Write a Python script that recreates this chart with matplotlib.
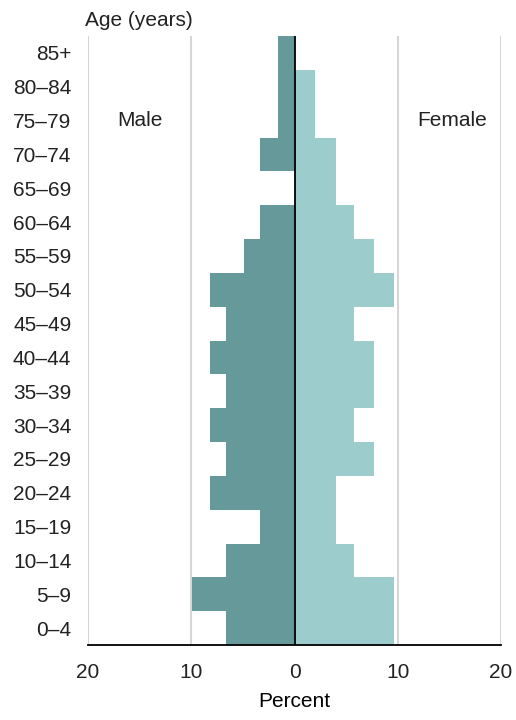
import numpy as np
import matplotlib
matplotlib.use("Agg")
import matplotlib.pyplot as plt
from matplotlib import rcParams

rcParams.update({
    "font.family": ["Liberation Sans", "DejaVu Sans"],
    "font.size": 15,
    "text.color": "#222222",
    "xtick.color": "#222222",
    "ytick.color": "#222222",
})

# ── data ──────────────────────────────────────────────
age_groups = ["0–4", "5–9", "10–14", "15–19", "20–24", "25–29", "30–34",
              "35–39", "40–44", "45–49", "50–54", "55–59", "60–64",
              "65–69", "70–74", "75–79", "80–84", "85+"]
male = [6.6, 9.9, 6.6, 3.3, 8.2, 6.6, 8.2, 6.6, 8.2, 6.6, 8.2, 4.9, 3.3,
        0.0, 3.3, 1.6, 1.6, 1.6]
female = [9.6, 9.6, 5.8, 4.0, 4.0, 7.7, 5.8, 7.7, 7.7, 5.8, 9.6, 7.7, 5.8,
          4.0, 4.0, 2.0, 2.0, 0.0]
x_ticks = [-20, -10, 0, 10, 20]

C_MALE = "#669999"
C_FEMALE = "#9ccccc"
C_GRID = "#d6d6d6"

fig = plt.figure(figsize=(5.16, 7.2), dpi=100)
ax = fig.add_axes([88 / 516, 1 - 645 / 720, 413 / 516, 609 / 720])

y = np.arange(len(age_groups))
ax.barh(y, [-m for m in male], height=1.0, color=C_MALE, linewidth=0, zorder=2)
ax.barh(y, female, height=1.0, color=C_FEMALE, linewidth=0, zorder=2)

# grid lines and zero line
for xv in x_ticks:
    if xv == 0:
        ax.axvline(0, color="black", linewidth=1.3, zorder=3)
    else:
        ax.axvline(xv, color=C_GRID, linewidth=1.5, zorder=1)

ax.set_xlim(-20, 20)
ax.set_ylim(-0.5, len(age_groups) - 0.5)
ax.set_xticks(x_ticks)
ax.set_xticklabels([str(abs(v)) for v in x_ticks])
ax.set_yticks(y)
ax.set_yticklabels(age_groups)
ax.tick_params(length=0)
ax.tick_params(axis="y", pad=12)
ax.tick_params(axis="x", pad=13)

for side in ["top", "right", "left"]:
    ax.spines[side].set_visible(False)
ax.spines["bottom"].set_linewidth(1.3)
ax.spines["bottom"].set_color("black")

ax.set_xlabel("Percent", labelpad=7)
fig.text(85 / 516, 1 - 20 / 720, "Age (years)", ha="left", va="center")

ax.text(-15, 15, "Male", ha="center", va="center")
ax.text(15.3, 15, "Female", ha="center", va="center")

fig.savefig("out.png", dpi=100)
